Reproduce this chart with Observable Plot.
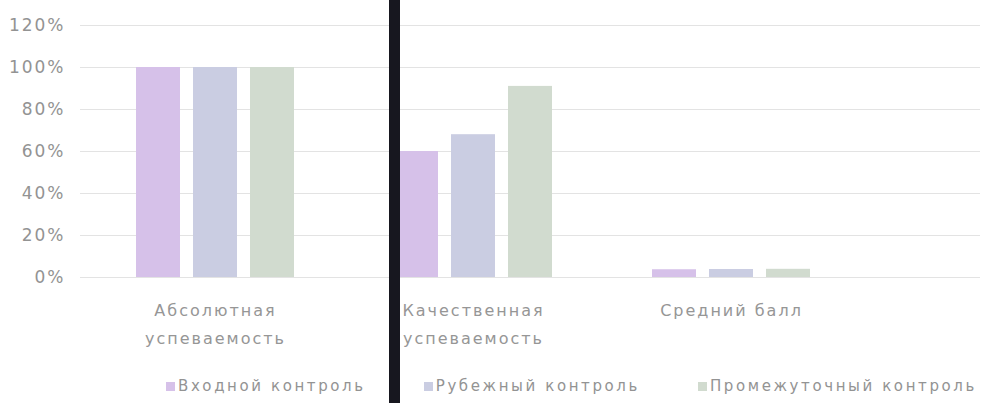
<!DOCTYPE html>
<html><head><meta charset="utf-8">
<script src="https://cdn.jsdelivr.net/npm/d3@7"></script>
<script src="https://cdn.jsdelivr.net/npm/@observablehq/plot@0.6"></script>
<style>
body{margin:0;background:#fff;width:983px;height:403px;overflow:hidden;font-family:"DejaVu Sans",sans-serif;}
#wrap{position:relative;width:983px;height:403px;}
#wrap svg{position:absolute;left:0;top:0;}
#wrap svg text{letter-spacing:2px;}
#legend{position:absolute;left:166px;top:377px;display:flex;gap:58px;font-size:15px;color:#939393;letter-spacing:2.6px;white-space:nowrap;}
#legend .item{display:flex;align-items:center;}
#legend .sw{display:inline-block;width:9px;height:9px;margin-right:3px;}
#scanbar{position:absolute;left:389px;top:0;width:11px;height:403px;background:#17171f;}
</style></head><body><div id="wrap"></div>
<script>
const categories = ["Абсолютная\nуспеваемость", "Качественная\nуспеваемость", "Средний балл"];
const series = ["Входной контроль", "Рубежный контроль", "Промежуточный контроль"];
const vhodnoy = [100, 60, 3.7];
const rubezhny = [100, 68, 3.8];
const promezh = [100, 91, 3.9];
const yTicks = [0, 20, 40, 60, 80, 100, 120];
const colors = ["#d6c1e9", "#cacde2", "#d1dbcf"];

const rows = [];
[vhodnoy, rubezhny, promezh].forEach((vals, si) =>
  vals.forEach((v, ci) => rows.push({category: categories[ci], series: series[si], value: v})));

const common = {
  width: 983, height: 360,
  marginTop: 25, marginBottom: 83, marginLeft: 80, marginRight: 3,
  style: {fontFamily: "'DejaVu Sans', sans-serif", background: "transparent"}
};

// grid + y axis layer
const grid = Plot.plot({
  ...common,
  y: {domain: [0, 120]},
  marks: [
    Plot.ruleY(yTicks, {stroke: "#e3e3e3"}),
    Plot.axisY(yTicks, {tickSize: 0, tickPadding: 15, tickFormat: d => d + "%", fontSize: 17, color: "#939393", label: null})
  ]
});

// bars layer
const chart = Plot.plot({
  ...common,
  fx: {domain: categories, range: [128.75, 817.25], paddingInner: 0.3314, paddingOuter: 0, label: null},
  x: {domain: series, paddingInner: 0.235, paddingOuter: 0.1175, axis: null},
  y: {domain: [0, 120], axis: null},
  color: {domain: series, range: colors},
  marks: [
    Plot.barY(rows, {fx: "category", x: "series", y: "value", fill: "series"}),
    Plot.axisFx({anchor: "bottom", tickSize: 0, tickPadding: 19, lineAnchor: "top", lineHeight: 1.75, fontSize: 16, color: "#969696", label: null})
  ]
});
const wrap = document.getElementById("wrap");
wrap.appendChild(grid);
wrap.appendChild(chart);

const legend = document.createElement("div");
legend.id = "legend";
series.forEach((s, i) => {
  const it = document.createElement("span");
  it.className = "item";
  const sw = document.createElement("span");
  sw.className = "sw";
  sw.style.background = colors[i];
  it.appendChild(sw);
  it.appendChild(document.createTextNode(s));
  legend.appendChild(it);
});
wrap.appendChild(legend);

const bar = document.createElement("div");
bar.id = "scanbar";
wrap.appendChild(bar);
</script>
</body></html>
